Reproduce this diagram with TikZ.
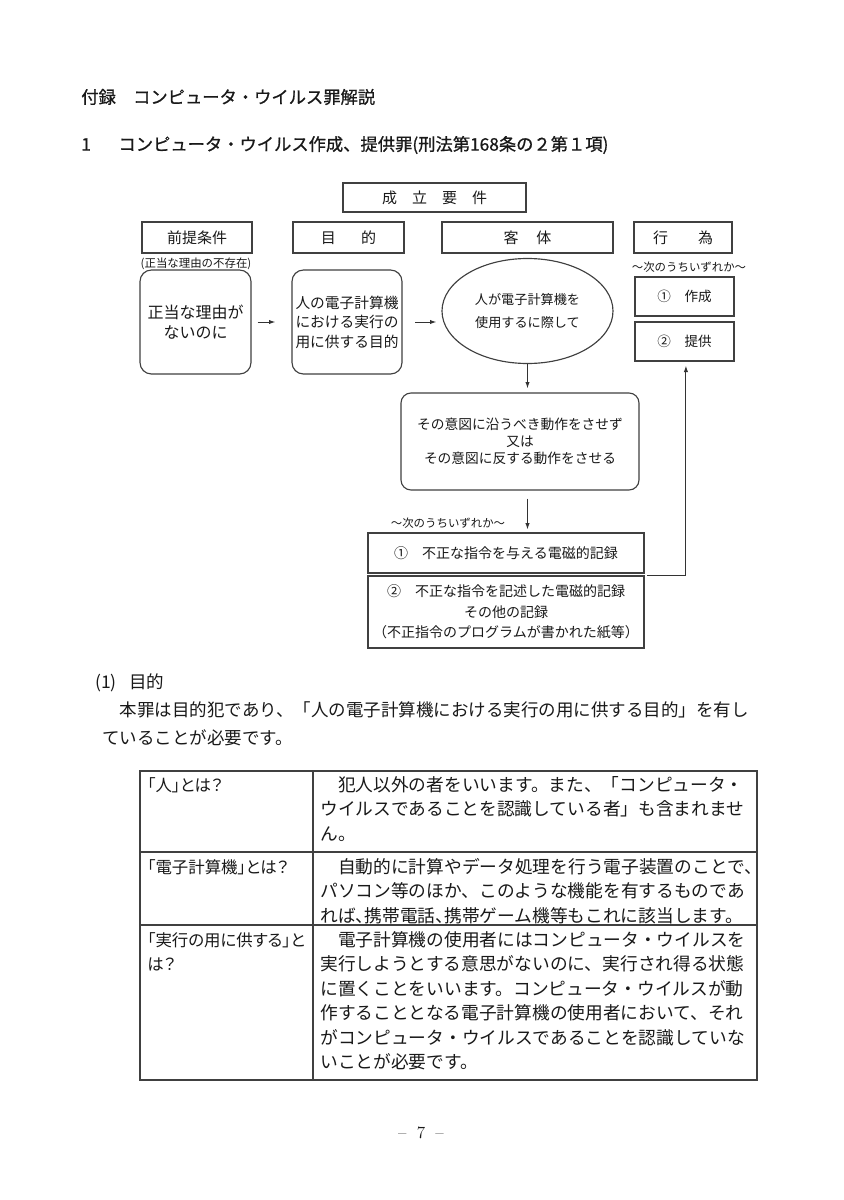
\documentclass[tikz,border=0pt]{standalone}
\usepackage{fontspec}
\usepackage{tikz}
\usetikzlibrary{shapes.geometric,arrows.meta,positioning,calc}

\newfontfamily\jp{Noto Sans CJK JP}
\newfontfamily\jpb{Noto Sans CJK JP}[FakeBold=0.8]
\newfontfamily\jpp{Noto Sans CJK JP}[RawFeature=+palt]
\newcommand{\jfs}[2]{\fontsize{#1pt}{#2pt}\selectfont}
\newcommand{\hten}{\makebox[0.5em][l]{、}}

\begin{document}
\begin{tikzpicture}[
    x=0.7pt, y=-0.7pt,
    every node/.style={inner sep=0pt, text=black!90},
    head/.style={rectangle, draw=black!75, line width=0.8pt, minimum height=21.7pt, font=\jp\jfs{10.5}{13}},
    rbox/.style={rectangle, draw=black!75, line width=0.8pt, rounded corners=8pt, align=center, minimum height=72.8pt},
    pbox/.style={rectangle, draw=black!75, line width=0.8pt, align=center},
    note/.style={font=\jp\jfs{8}{10}},
    arrow/.style={-{Latex[length=4.5pt,width=3pt]}, line width=0.7pt, draw=black!80},
    tline/.style={line width=0.8pt, draw=black!75},
    cell/.style={anchor=north west, align=left, font=\jp\jfs{12.4}{17.15}},
    lcell/.style={anchor=north west, align=left, font=\jpp\jfs{11.5}{17.15}}
]
\fill[white] (0,0) rectangle (844,1200);
\useasboundingbox (0,0) rectangle (844,1200);

% headings
\node[anchor=west, font=\jpb\jfs{12.1}{14}] (ttl) at (81,97) {付録　コンピュータ・ウイルス罪解説};
\node[anchor=west, font=\jpb\jfs{12.1}{14}] (sec) at (81,145) {1\hspace{1.6em}コンピュータ・ウイルス作成、提供罪(刑法第168条の２第１項)};

% requirements chart
\node[head, minimum width=128.1pt, minimum height=20.3pt] (req) at (434.5,197.5) {成　立　要　件};
\node[head, minimum width=77pt] (pre) at (197,237.5) {前提条件};
\node[head, minimum width=77.7pt] (pur) at (348.5,237.5) {目\hspace{1.7em}的};
\node[head, minimum width=119.7pt] (obj) at (527.5,237.5) {客\hspace{1.2em}体};
\node[head, minimum width=68.6pt] (act) at (683,237.5) {行　　為};

\node[note] (why) at (196,264) {(正当な理由の不存在)};
\node[note] (any1) at (689,267) {～次のうちいずれか～};

\node[rbox, minimum width=77.7pt, font=\jp\jfs{11.2}{14}] (cond) at (195.5,322) {正当な理由が\\ないのに};
\node[rbox, minimum width=77pt, font=\jp\jfs{10.3}{13.65}] (goal) at (347,322) {人の電子計算機\\における実行の\\用に供する目的};
\node[ellipse, draw=black!75, line width=0.8pt, minimum width=119.7pt, minimum height=73.5pt, align=center, font=\jp\jfs{9.2}{16}] (user) at (527.5,311) {人が電子計算機を\\使用するに際して};
\node[pbox, minimum width=69.3pt, minimum height=27.3pt, font=\jp\jfs{9.5}{12}] (mk) at (684.5,296.5) {①　作成};
\node[pbox, minimum width=69.3pt, minimum height=27.3pt, font=\jp\jfs{9.5}{12}] (pv) at (684.5,341.5) {②　提供};

\node[rbox, rounded corners=7pt, minimum width=166.6pt, minimum height=67.9pt, font=\jp\jfs{9.6}{11.9}] (act2) at (520,441.5) {その意図に沿うべき動作をさせず\\又は\\その意図に反する動作をさせる};
\node[note] (any2) at (448,523) {～次のうちいずれか～};
\node[pbox, minimum width=193.2pt, minimum height=28pt, font=\jp\jfs{9.8}{14.35}] (rec1) at (506,553) {①　不正な指令を与える電磁的記録};
\node[pbox, minimum width=193.2pt, minimum height=50.4pt, font=\jp\jfs{9.8}{14.35}] (rec2) at (506,612) {②　不正な指令を記述した電磁的記録\\その他の記録\\（不正指令のプログラムが書かれた紙等）};

\draw[arrow, shorten <=4.2pt, shorten >=11.2pt] (cond) -- (goal);
\draw[arrow, shorten <=9pt, shorten >=3.5pt] (goal.east) -- (goal.east -| user.west);
\draw[arrow, shorten >=2.8pt] (user.south) -- (user.south |- act2.north);
\draw[arrow, shorten <=5.6pt, shorten >=2pt] (user.south |- act2.south) -- (user.south |- rec1.north);
\draw[arrow, shorten >=2.8pt] ([xshift=2pt]rec2.north east) -| ([xshift=1pt]pv.south);

% explanation
\node[anchor=west, font=\jp\jfs{12.25}{14}] (sub) at (95,683) {(1)\hspace{0.7em}目的};
\node[anchor=north west, align=left, font=\jp\jfs{12.25}{19.6}] (par) at (102,701) {　本罪は目的犯であり、「人の電子計算機における実行の用に供する目的」を有し\\ていることが必要です。};

% table
\draw[tline] (140,771) rectangle (757,1080);
\draw[tline] (313,771) -- (313,1080);
\draw[tline] (140,852) -- (757,852);
\draw[tline] (140,925) -- (757,925);

\node[lcell] (k1) at (147,777) {「人」とは？};
\node[lcell] (k2) at (147,859) {「電子計算機」とは？};
\node[lcell] (k3) at (147,932) {「実行の用に供する」と\\は？};

\node[cell] (v1) at (320,776) {　犯人以外の者をいいます。また、「コンピュータ・\\ウイルスであることを認識している者」も含まれませ\\ん。};
\node[cell] (v2) at (320,858) {　自動的に計算やデータ処理を行う電子装置のことで\hten\\パソコン等のほか、このような機能を有するものであ\\れば\hten 携帯電話\hten 携帯ゲーム機等もこれに該当します。};
\node[cell] (v3) at (320,931) {　電子計算機の使用者にはコンピュータ・ウイルスを\\実行しようとする意思がないのに、実行され得る状態\\に置くことをいいます。コンピュータ・ウイルスが動\\作することとなる電子計算機の使用者において、それ\\がコンピュータ・ウイルスであることを認識していな\\いことが必要です。};

\node[font=\rmfamily\jfs{12}{14}] (pg) at (421,1133) {--\hspace{0.6em}7\hspace{0.6em}--};
\end{tikzpicture}
\end{document}
